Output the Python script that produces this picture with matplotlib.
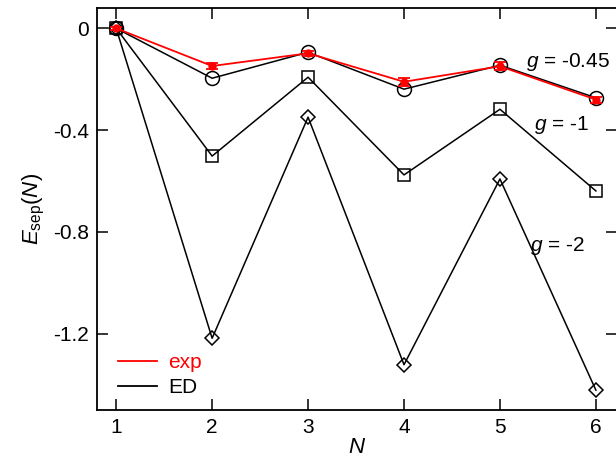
import numpy as np
import matplotlib.pyplot as plt

plt.rcParams["font.family"] = ["Liberation Sans", "DejaVu Sans"]
plt.rcParams["mathtext.fontset"] = "custom"
plt.rcParams["mathtext.it"] = "Liberation Sans:italic"
plt.rcParams["mathtext.rm"] = "Liberation Sans"

# data
N = [1, 2, 3, 4, 5, 6]
exp_E   = [0.0, -0.148, -0.098, -0.210, -0.149, -0.280]
exp_err = [0.005, 0.010, 0.010, 0.015, 0.015, 0.012]
ed_045  = [0.0, -0.196, -0.094, -0.239, -0.145, -0.273]
ed_1    = [0.0, -0.502, -0.192, -0.576, -0.318, -0.639]
ed_2    = [0.0, -1.218, -0.349, -1.322, -0.592, -1.422]

fig = plt.figure(figsize=(6.16, 4.57), dpi=100)
ax = fig.add_axes([97/616, 47/457, 520/616, 402/457])

ax.plot(N, ed_2, color="black", lw=1.1, marker="D", ms=7, mfc="none", mew=1.1)
ax.plot(N, ed_1, color="black", lw=1.1, marker="s", ms=8, mfc="none", mew=1.1)
ax.plot(N, ed_045, color="black", lw=1.1, marker="o", ms=10, mfc="none", mew=1.1)
ax.errorbar(N, exp_E, yerr=exp_err, color="red", lw=1.3, marker="o", ms=5,
            capsize=4, elinewidth=1.3, capthick=1.3)

ax.plot([], [], color="red", lw=1.3, label="exp")
ax.plot([], [], color="black", lw=1.3, label="ED")
leg = ax.legend(loc="lower left", frameon=False, fontsize=15, handlelength=1.9,
                handletextpad=0.5, borderaxespad=0.3, labelspacing=0.3,
                bbox_to_anchor=(0.012, -0.005))
leg.get_texts()[0].set_color("red")

ax.text(5.27, -0.15, r"$g$ = -0.45", fontsize=15)
ax.text(5.36, -0.40, r"$g$ = -1", fontsize=15)
ax.text(5.31, -0.875, r"$g$ = -2", fontsize=15)

ax.set_xlim(0.8, 6.22)
ax.set_ylim(-1.5, 0.08)
ax.set_xticks(N)
ax.set_yticks([0, -0.4, -0.8, -1.2])
ax.set_yticklabels(["0", "-0.4", "-0.8", "-1.2"])
ax.tick_params(direction="in", length=8, width=1.1, top=True, right=True,
               labelsize=15, pad=6)
for s in ax.spines.values():
    s.set_linewidth(1.3)

ax.set_xlabel(r"$N$", fontsize=16, labelpad=0)
ax.set_ylabel(r"$E_{\rm sep}(N)$", fontsize=16, labelpad=4)

fig.savefig("out.png", dpi=100)
